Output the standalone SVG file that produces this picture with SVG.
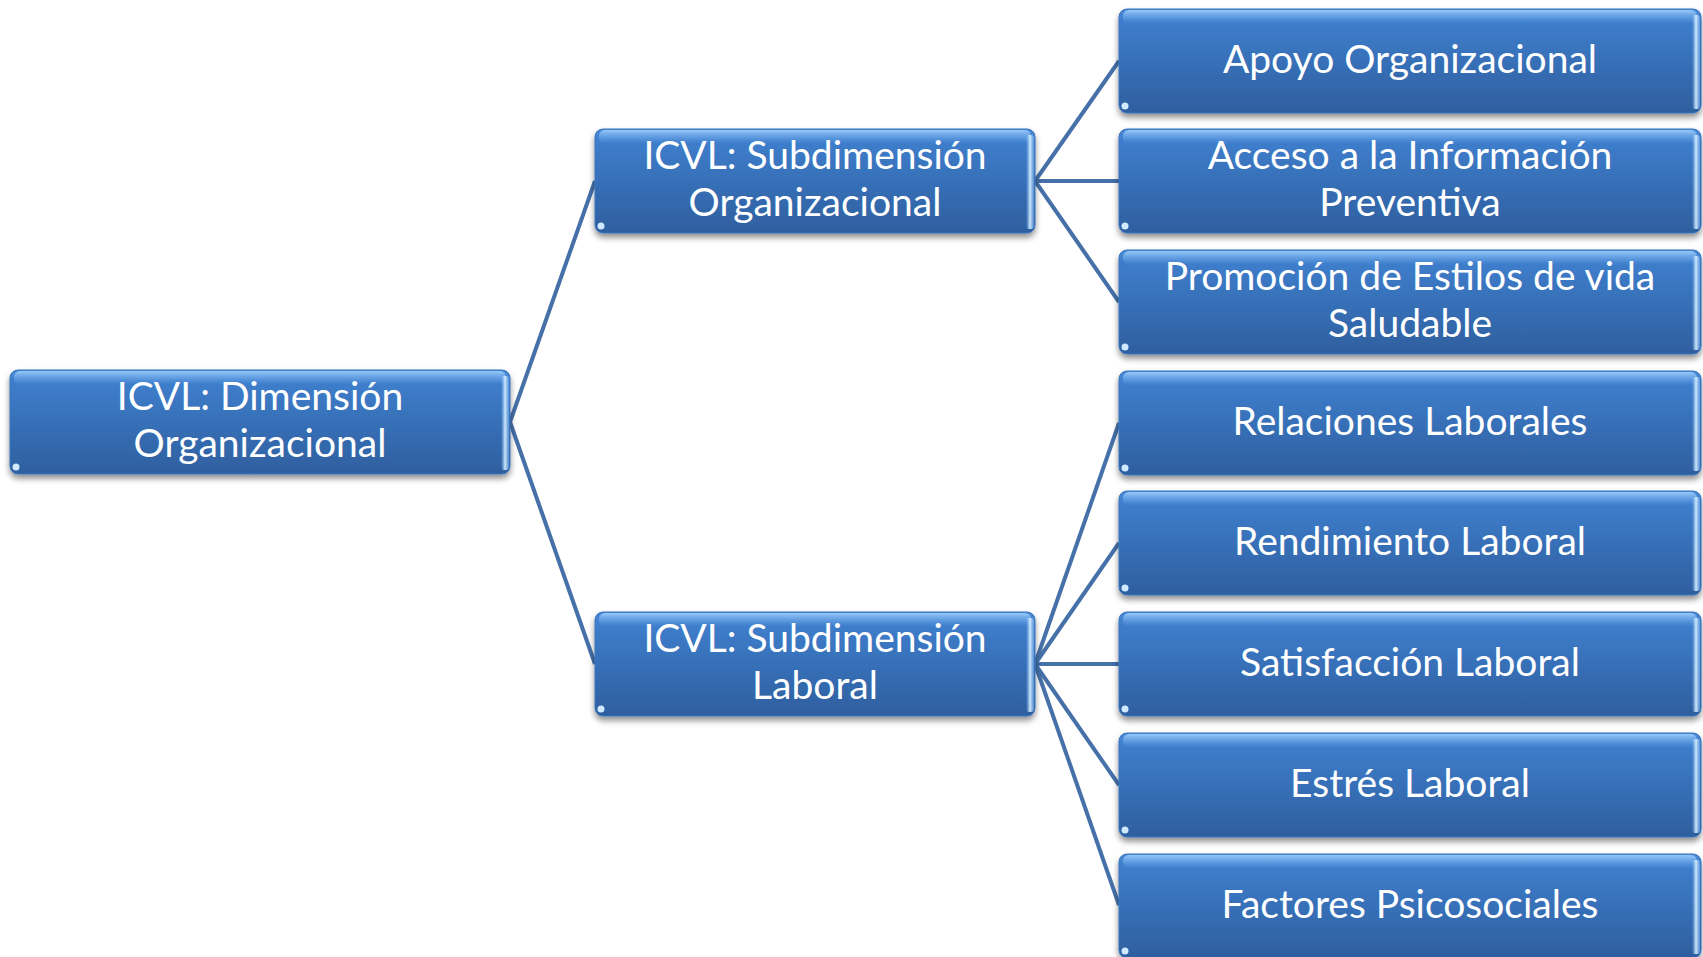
<svg xmlns="http://www.w3.org/2000/svg" width="1703" height="957" viewBox="0 0 1703 957">
<defs>
<linearGradient id="gFill" x1="0" y1="0" x2="0" y2="1">
<stop offset="0" stop-color="#4a8ad6"/>
<stop offset="0.12" stop-color="#3e7dcb"/>
<stop offset="1" stop-color="#2e5f9f"/>
</linearGradient>
<linearGradient id="gTop" x1="0" y1="0" x2="0" y2="1">
<stop offset="0" stop-color="#9fd0ff" stop-opacity="0.9"/>
<stop offset="1" stop-color="#6aa8ec" stop-opacity="0"/>
</linearGradient>
<linearGradient id="gRight" x1="0" y1="0" x2="1" y2="0">
<stop offset="0" stop-color="#8cc6ff" stop-opacity="0"/>
<stop offset="0.5" stop-color="#d8efff" stop-opacity="0.95"/>
<stop offset="1" stop-color="#6fa8e6" stop-opacity="0.6"/>
</linearGradient>
<filter id="sh" x="-5%" y="-10%" width="110%" height="125%">
<feGaussianBlur in="SourceAlpha" stdDeviation="3"/>
<feOffset dx="0" dy="4" result="b"/>
<feComponentTransfer><feFuncA type="linear" slope="0.45"/></feComponentTransfer>
<feMerge><feMergeNode/><feMergeNode in="SourceGraphic"/></feMerge>
</filter>
<symbol id="dot" overflow="visible"><circle r="3.5" fill="#cfe9ff"/></symbol>
</defs>
<style>
.box{fill:url(#gFill);stroke:#3a74bc;stroke-width:1}
.top{fill:url(#gTop)}
.rt{fill:url(#gRight)}
.t{font-family:Lato,"Open Sans","Noto Sans",sans-serif;font-size:39px;fill:#ffffff;text-anchor:middle}
.c{stroke:#4570a8;stroke-width:4;fill:none}
</style>
<g id="connectors">
<line class="c" x1="510" y1="422" x2="595" y2="181"/>
<line class="c" x1="510" y1="422" x2="595" y2="664"/>
<line class="c" x1="1035" y1="181" x2="1119" y2="61"/>
<line class="c" x1="1035" y1="181" x2="1119" y2="181"/>
<line class="c" x1="1035" y1="181" x2="1119" y2="302"/>
<line class="c" x1="1035" y1="664" x2="1119" y2="423"/>
<line class="c" x1="1035" y1="664" x2="1119" y2="543"/>
<line class="c" x1="1035" y1="664" x2="1119" y2="664"/>
<line class="c" x1="1035" y1="664" x2="1119" y2="785"/>
<line class="c" x1="1035" y1="664" x2="1119" y2="905"/>
</g>
<g id="root">
<g filter="url(#sh)"><rect class="box" x="10" y="370" width="500" height="104" rx="8"/></g>
<rect class="top" x="14" y="371" width="492" height="14" rx="6"/>
<rect class="rt" x="501" y="376" width="8" height="94" rx="3"/>
<use href="#dot" x="16" y="467"/>
<text class="t" x="260" y="410">ICVL: Dimensión</text>
<text class="t" x="260" y="457">Organizacional</text>
</g>
<g id="mid-org">
<g filter="url(#sh)"><rect class="box" x="595" y="129" width="440" height="104" rx="8"/></g>
<rect class="top" x="599" y="130" width="432" height="14" rx="6"/>
<rect class="rt" x="1026" y="135" width="8" height="94" rx="3"/>
<use href="#dot" x="601" y="226"/>
<text class="t" x="815" y="169">ICVL: Subdimensión</text>
<text class="t" x="815" y="216">Organizacional</text>
</g>
<g id="mid-lab">
<g filter="url(#sh)"><rect class="box" x="595" y="612" width="440" height="104" rx="8"/></g>
<rect class="top" x="599" y="613" width="432" height="14" rx="6"/>
<rect class="rt" x="1026" y="618" width="8" height="94" rx="3"/>
<use href="#dot" x="601" y="709"/>
<text class="t" x="815" y="652">ICVL: Subdimensión</text>
<text class="t" x="815" y="699">Laboral</text>
</g>
<g id="leaf1">
<g filter="url(#sh)"><rect class="box" x="1119" y="9" width="582" height="104" rx="8"/></g>
<rect class="top" x="1123" y="10" width="574" height="14" rx="6"/>
<rect class="rt" x="1692" y="15" width="8" height="94" rx="3"/>
<use href="#dot" x="1125" y="106"/>
<text class="t" x="1410" y="73">Apoyo Organizacional</text>
</g>
<g id="leaf2">
<g filter="url(#sh)"><rect class="box" x="1119" y="129" width="582" height="104" rx="8"/></g>
<rect class="top" x="1123" y="130" width="574" height="14" rx="6"/>
<rect class="rt" x="1692" y="135" width="8" height="94" rx="3"/>
<use href="#dot" x="1125" y="226"/>
<text class="t" x="1410" y="169">Acceso a la Información</text>
<text class="t" x="1410" y="216">Preventiva</text>
</g>
<g id="leaf3">
<g filter="url(#sh)"><rect class="box" x="1119" y="250" width="582" height="104" rx="8"/></g>
<rect class="top" x="1123" y="251" width="574" height="14" rx="6"/>
<rect class="rt" x="1692" y="256" width="8" height="94" rx="3"/>
<use href="#dot" x="1125" y="347"/>
<text class="t" x="1410" y="290">Promoción de Estilos de vida</text>
<text class="t" x="1410" y="337">Saludable</text>
</g>
<g id="leaf4">
<g filter="url(#sh)"><rect class="box" x="1119" y="371" width="582" height="104" rx="8"/></g>
<rect class="top" x="1123" y="372" width="574" height="14" rx="6"/>
<rect class="rt" x="1692" y="377" width="8" height="94" rx="3"/>
<use href="#dot" x="1125" y="468"/>
<text class="t" x="1410" y="435">Relaciones Laborales</text>
</g>
<g id="leaf5">
<g filter="url(#sh)"><rect class="box" x="1119" y="491" width="582" height="104" rx="8"/></g>
<rect class="top" x="1123" y="492" width="574" height="14" rx="6"/>
<rect class="rt" x="1692" y="497" width="8" height="94" rx="3"/>
<use href="#dot" x="1125" y="588"/>
<text class="t" x="1410" y="555">Rendimiento Laboral</text>
</g>
<g id="leaf6">
<g filter="url(#sh)"><rect class="box" x="1119" y="612" width="582" height="104" rx="8"/></g>
<rect class="top" x="1123" y="613" width="574" height="14" rx="6"/>
<rect class="rt" x="1692" y="618" width="8" height="94" rx="3"/>
<use href="#dot" x="1125" y="709"/>
<text class="t" x="1410" y="676">Satisfacción Laboral</text>
</g>
<g id="leaf7">
<g filter="url(#sh)"><rect class="box" x="1119" y="733" width="582" height="104" rx="8"/></g>
<rect class="top" x="1123" y="734" width="574" height="14" rx="6"/>
<rect class="rt" x="1692" y="739" width="8" height="94" rx="3"/>
<use href="#dot" x="1125" y="830"/>
<text class="t" x="1410" y="797">Estrés Laboral</text>
</g>
<g id="leaf8">
<g filter="url(#sh)"><rect class="box" x="1119" y="854" width="582" height="104" rx="8"/></g>
<rect class="top" x="1123" y="855" width="574" height="14" rx="6"/>
<rect class="rt" x="1692" y="860" width="8" height="94" rx="3"/>
<use href="#dot" x="1125" y="951"/>
<text class="t" x="1410" y="918">Factores Psicosociales</text>
</g>
</svg>
